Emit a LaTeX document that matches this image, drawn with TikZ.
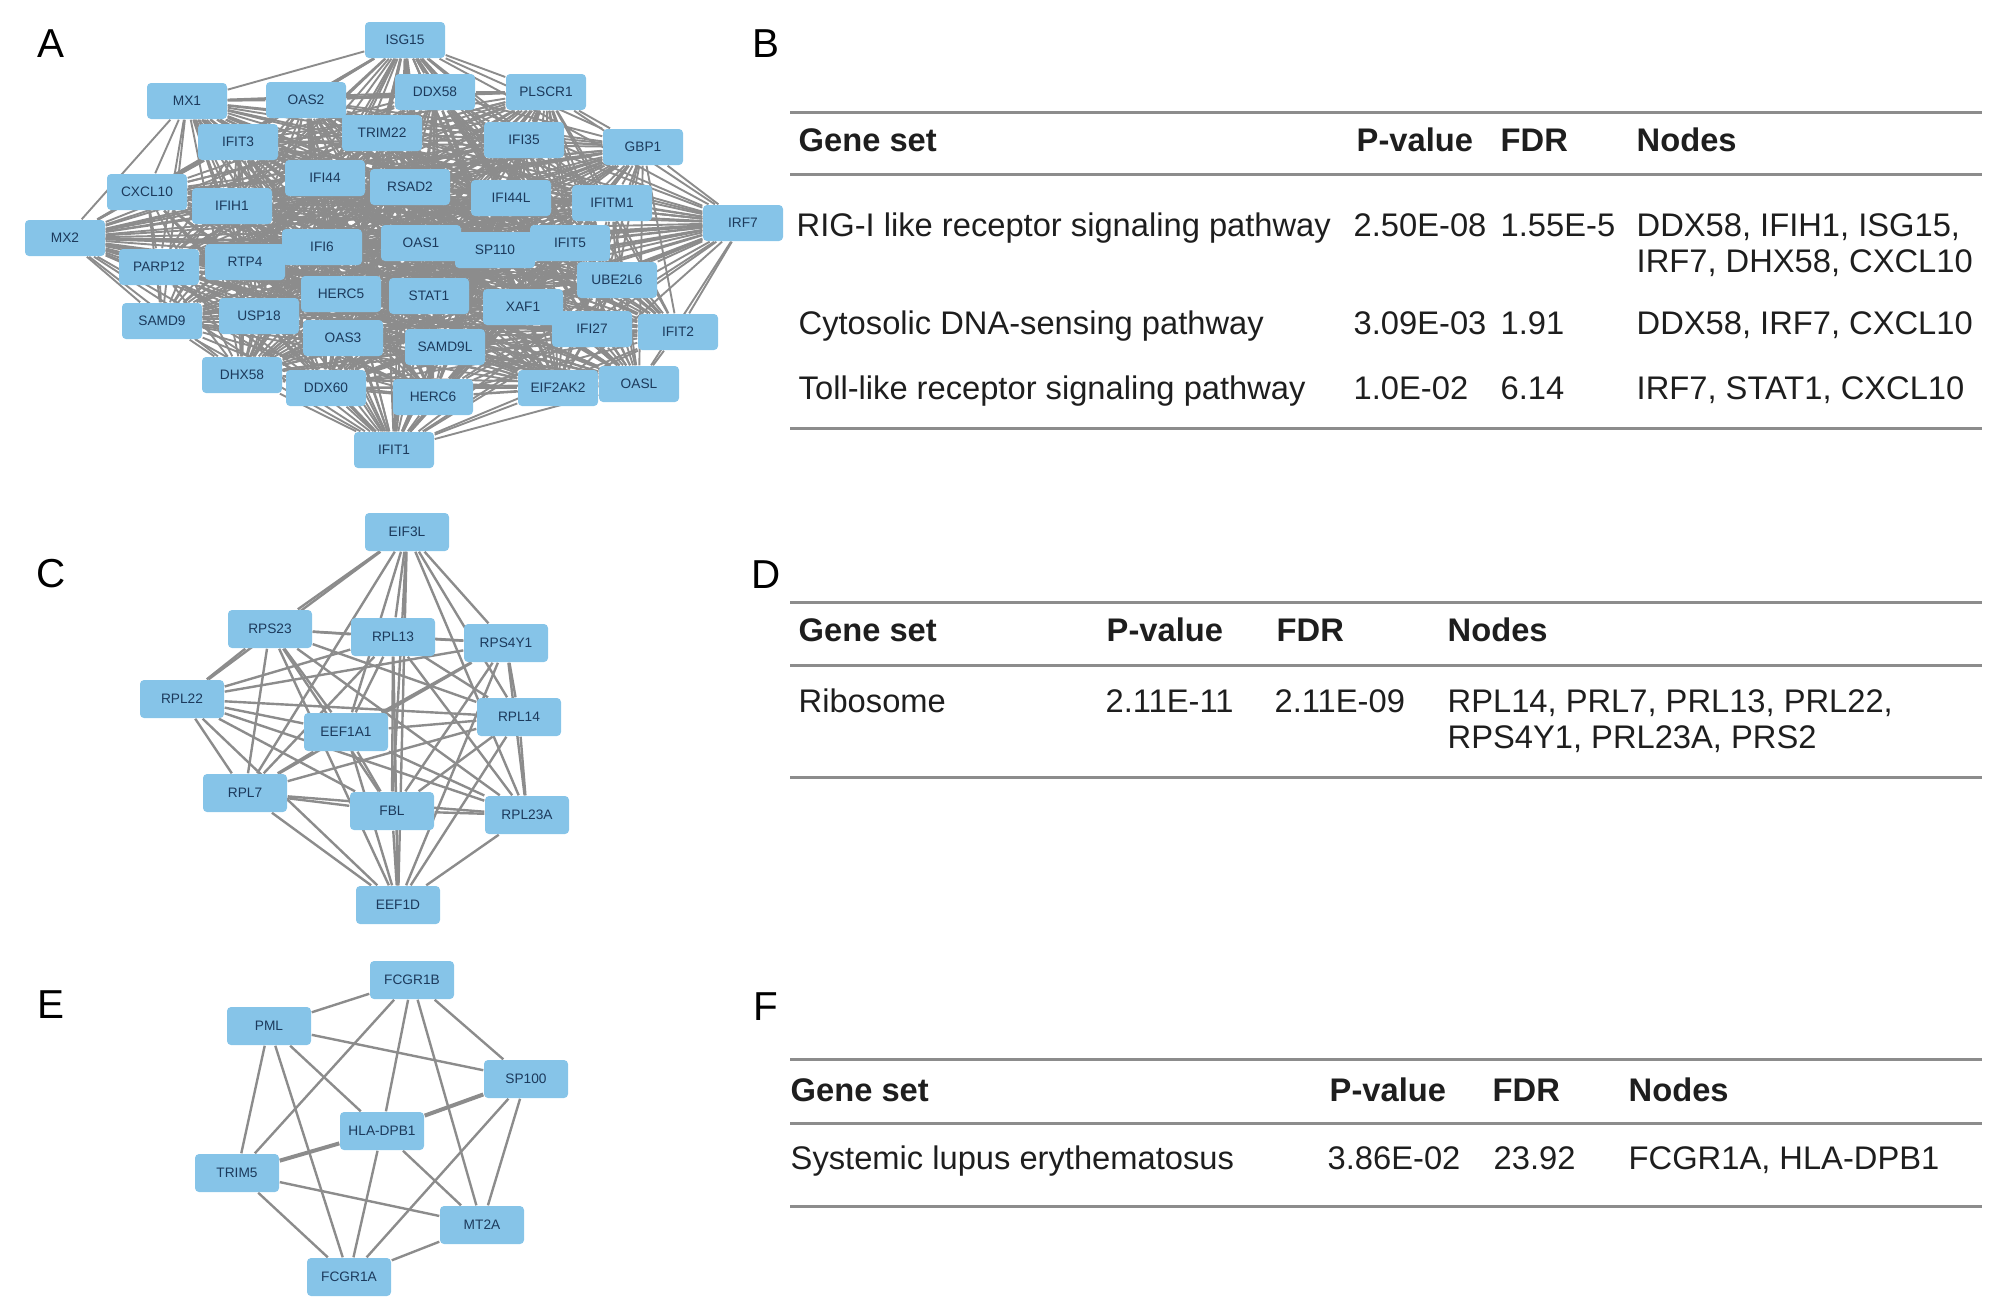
\documentclass[tikz,border=0pt]{standalone}
\usepackage{fontspec}
\setmainfont{Liberation Sans}
\definecolor{nodeblue}{RGB}{134,196,232}
\definecolor{nodetext}{RGB}{28,58,92}
\definecolor{edgegray}{RGB}{140,140,140}
\definecolor{rulegray}{RGB}{140,140,140}
\definecolor{txt}{RGB}{30,30,30}
\pgfdeclarelayer{bg}
\pgfsetlayers{bg,main}
\newcommand{\tabfont}{\fontsize{9.3}{10.5}\selectfont}
\newcommand{\genefont}{\fontsize{3.9}{4.5}\selectfont}
\newcommand{\genesA}{ISG15,MX1,OAS2,DDX58,PLSCR1,TRIM22,IFIT3,IFI35,GBP1,IFI44,RSAD2,CXCL10,IFIH1,IFI44L,IFITM1,IRF7,MX2,IFI6,OAS1,SP110,IFIT5,PARP12,RTP4,UBE2L6,HERC5,STAT1,XAF1,SAMD9,USP18,IFI27,IFIT2,OAS3,SAMD9L,DHX58,DDX60,HERC6,EIF2AK2,OASL,IFIT1}
\newcommand{\genesC}{EIF3L,RPS23,RPL13,RPS4Y1,RPL22,RPL14,EEF1A1,RPL7,FBL,RPL23A,EEF1D}

\begin{document}
\begin{tikzpicture}[
  x=0.1mm, y=-0.1mm,
  gene/.style={fill=nodeblue, text=nodetext, rounded corners=0.4mm, minimum width=8mm, minimum height=3.6mm, inner sep=0pt, font=\genefont},
  geneb/.style={gene, minimum width=8.4mm, minimum height=3.8mm},
  link/.style={draw=edgegray, line width=0.19mm},
  linkb/.style={draw=edgegray, line width=0.24mm},
  rule/.style={draw=rulegray, line width=0.3mm},
  cell/.style={anchor=base west, inner sep=0pt, text=txt, font=\tabfont},
  head/.style={cell, font=\tabfont\bfseries},
  panel/.style={anchor=base, inner sep=0pt, font=\fontsize{11.5}{12}\selectfont}
]
\useasboundingbox (0,0) rectangle (2008,1308);

\node[panel] (lblA) at (51,57) {A};
\node[panel] (lblB) at (766,57) {B};
\node[panel] (lblC) at (51,587) {C};
\node[panel] (lblD) at (766,588) {D};
\node[panel] (lblE) at (51,1018) {E};
\node[panel] (lblF) at (766,1020) {F};

\foreach \g/\x/\y in {ISG15/405/40, MX1/187/101, OAS2/306/100, DDX58/435/92, PLSCR1/546/92,
  TRIM22/382/133, IFIT3/238/142, IFI35/524/140, GBP1/643/147, IFI44/325/178, RSAD2/410/187,
  CXCL10/147/192, IFIH1/232/206, IFI44L/511/198, IFITM1/612/203, IRF7/743/223, MX2/65/238,
  IFI6/322/247, OAS1/421/243, SP110/495/250, IFIT5/570/243, PARP12/159/267, RTP4/245/262,
  UBE2L6/617/280, HERC5/341/294, STAT1/429/296, XAF1/523/307, SAMD9/162/321, USP18/259/316,
  IFI27/592/329, IFIT2/678/332, OAS3/343/338, SAMD9L/445/347, DHX58/242/375, DDX60/326/388,
  HERC6/433/397, EIF2AK2/558/388, OASL/639/384, IFIT1/394/450}
  \node[gene] (a\g) at (\x,\y) {\g};

\begin{pgfonlayer}{bg}
\foreach \p [count=\i] in \genesA {
  \foreach \q [count=\j] in \genesA {
    \ifnum\i<\j \draw[link] (a\p) -- (a\q); \fi
  }
}
\end{pgfonlayer}

\foreach \g/\x/\y in {EIF3L/407/532, RPS23/270/629, RPL13/393/637, RPS4Y1/506/643, RPL22/182/699,
  RPL14/519/717, EEF1A1/346/732, RPL7/245/793, FBL/392/811, RPL23A/527/815, EEF1D/398/905}
  \node[geneb] (c\g) at (\x,\y) {\g};

\begin{pgfonlayer}{bg}
\foreach \p [count=\i] in \genesC {
  \foreach \q [count=\j] in \genesC {
    \ifnum\i<\j \draw[linkb] (c\p) -- (c\q); \fi
  }
}
\end{pgfonlayer}

\node[geneb] (eFCGR1B) at (412,980) {FCGR1B};
\node[geneb] (ePML) at (269,1026) {PML};
\node[geneb] (eSP100) at (526,1079) {SP100};
\node[geneb] (eHLA) at (382,1131) {HLA-DPB1};
\node[geneb] (eTRIM5) at (237,1173) {TRIM5};
\node[geneb] (eMT2A) at (482,1225) {MT2A};
\node[geneb] (eFCGR1A) at (349,1277) {FCGR1A};

\begin{pgfonlayer}{bg}
\foreach \u/\v in {eFCGR1B/ePML, eFCGR1B/eTRIM5, eFCGR1B/eHLA, eFCGR1B/eMT2A, eFCGR1B/eSP100,
  ePML/eSP100, ePML/eTRIM5, ePML/eFCGR1A, ePML/eHLA, eSP100/eFCGR1A, eSP100/eMT2A,
  eHLA/eFCGR1A, eHLA/eMT2A, eTRIM5/eMT2A, eTRIM5/eFCGR1A, eMT2A/eFCGR1A}
  \draw[linkb] (\u) -- (\v);
\draw[linkb, line width=0.4mm] (eSP100) -- (eHLA);
\draw[linkb, line width=0.4mm] (eHLA) -- (eTRIM5);
\end{pgfonlayer}

\draw[rule] (790,112) -- (1982,112);
\draw[rule] (790,174) -- (1982,174);
\draw[rule] (790,428) -- (1982,428);
\node[head] (bh1) at (798,151) {Gene set};
\node[head] (bh2) at (1356,151) {P-value};
\node[head] (bh3) at (1500,151) {FDR};
\node[head] (bh4) at (1636,151) {Nodes};
\node[cell] (b11) at (796,236) {RIG-I like receptor signaling pathway};
\node[cell] (b12) at (1353,236) {2.50E-08};
\node[cell] (b13) at (1500,236) {1.55E-5};
\node[cell] (b14) at (1636,236) {\begin{tabular}[t]{@{}l@{}}DDX58, IFIH1, ISG15,\\IRF7, DHX58, CXCL10\end{tabular}};
\node[cell] (b21) at (798,334) {Cytosolic DNA-sensing pathway};
\node[cell] (b22) at (1353,334) {3.09E-03};
\node[cell] (b23) at (1500,334) {1.91};
\node[cell] (b24) at (1636,334) {DDX58, IRF7, CXCL10};
\node[cell] (b31) at (798,399) {Toll-like receptor signaling pathway};
\node[cell] (b32) at (1353,399) {1.0E-02};
\node[cell] (b33) at (1500,399) {6.14};
\node[cell] (b34) at (1636,399) {IRF7, STAT1, CXCL10};

\draw[rule] (790,602) -- (1982,602);
\draw[rule] (790,665) -- (1982,665);
\draw[rule] (790,777) -- (1982,777);
\node[head] (dh1) at (798,641) {Gene set};
\node[head] (dh2) at (1106,641) {P-value};
\node[head] (dh3) at (1276,641) {FDR};
\node[head] (dh4) at (1447,641) {Nodes};
\node[cell] (d11) at (798,712) {Ribosome};
\node[cell] (d12) at (1105,712) {2.11E-11};
\node[cell] (d13) at (1274,712) {2.11E-09};
\node[cell] (d14) at (1447,712) {\begin{tabular}[t]{@{}l@{}}RPL14, PRL7, PRL13, PRL22,\\RPS4Y1, PRL23A, PRS2\end{tabular}};

\draw[rule] (790,1059) -- (1982,1059);
\draw[rule] (790,1123) -- (1982,1123);
\draw[rule] (790,1206) -- (1982,1206);
\node[head] (fh1) at (790,1101) {Gene set};
\node[head] (fh2) at (1329,1101) {P-value};
\node[head] (fh3) at (1492,1101) {FDR};
\node[head] (fh4) at (1628,1101) {Nodes};
\node[cell] (f11) at (790,1169) {Systemic lupus erythematosus};
\node[cell] (f12) at (1327,1169) {3.86E-02};
\node[cell] (f13) at (1493,1169) {23.92};
\node[cell] (f14) at (1628,1169) {FCGR1A, HLA-DPB1};
\end{tikzpicture}
\end{document}
